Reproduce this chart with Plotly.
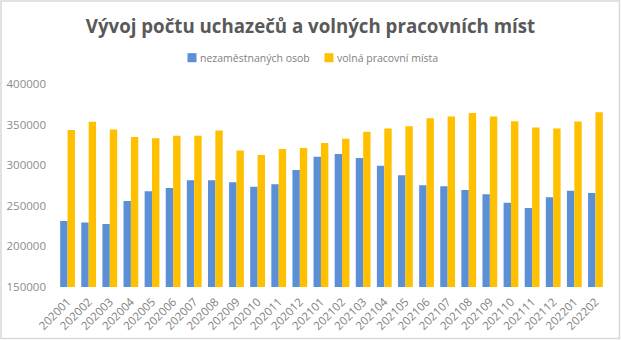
import plotly.graph_objects as go

categories = ["202001","202002","202003","202004","202005","202006","202007","202008","202009","202010","202011","202012",
              "202101","202102","202103","202104","202105","202106","202107","202108","202109","202110","202111","202112",
              "202201","202202"]
nezamestnanych = [231400,229300,227700,256000,267900,272000,281400,281400,278900,273500,276500,294000,
                  310400,313700,308800,299300,287500,275300,274000,269500,264200,253900,247400,260500,
                  268600,265800]
volna_mista = [343200,353400,344000,334600,333300,336200,336200,342800,318200,312500,319800,321100,
               327200,332500,341100,345200,348100,357900,360000,364400,360000,354200,346500,345200,
               353800,365300]
y_ticks = [150000,200000,250000,300000,350000,400000]
series_names = ["nezaměstnaných osob", "volná pracovní místa"]
series_colors = ["#5B8FD6", "#FFC000"]

W, H = 621, 340
L, R, T, B = 57, 15, 84, 53
pw, ph = W - L - R, H - T - B

def px_x(p):
    return (p - L) / pw

def px_y(p):
    return (H - B - p) / ph

fig = go.Figure()
fig.add_bar(x=categories, y=nezamestnanych, name=series_names[0], marker_color=series_colors[0],
            marker_line_width=0)
fig.add_bar(x=categories, y=volna_mista, name=series_names[1], marker_color=series_colors[1],
            marker_line_width=0)

fig.update_layout(
    width=W, height=H,
    margin=dict(l=L, r=R, t=T, b=B, autoexpand=False),
    paper_bgcolor="white", plot_bgcolor="white",
    barmode="group", bargap=0.3, bargroupgap=0,
    font=dict(family="Open Sans", color="#7f7f7f", size=11),
    title=dict(text="<b>Vývoj počtu uchazečů a volných pracovních míst</b>",
               x=0.5, xref="container", xanchor="center", y=1 - 26 / H, yanchor="middle",
               font=dict(family="Open Sans", size=18.7, color="#595959")),
    showlegend=False,
)
fig.update_xaxes(type="category", tickangle=-45, showline=False, showgrid=False, ticks="",
                 automargin=False, ticklabelstandoff=5, tickfont=dict(size=11.5, color="#7f7f7f"))
fig.update_yaxes(range=[150000, 400000], tickvals=y_ticks, tickformat="d", showgrid=False,
                 showline=False, zeroline=False, ticks="", ticklabelstandoff=10, automargin=False,
                 tickfont=dict(size=11.5, color="#8c8c8c"))

# outer chart border
fig.add_shape(type="rect", xref="paper", yref="paper",
              x0=px_x(1), x1=px_x(W - 1.5), y0=px_y(H - 1.5), y1=px_y(1),
              line=dict(color="#d9d9d9", width=1.5), fillcolor="rgba(0,0,0,0)", layer="below")

# legend (square swatch + label)
legend_x = [187.5, 324.5]
legend_cy = 57.7
for name, color, lx in zip(series_names, series_colors, legend_x):
    fig.add_shape(type="rect", xref="paper", yref="paper",
                  x0=px_x(lx), x1=px_x(lx + 9), y0=px_y(legend_cy + 4.5), y1=px_y(legend_cy - 4.5),
                  line=dict(width=0), fillcolor=color)
    fig.add_annotation(text=name, xref="paper", yref="paper", x=px_x(lx + 10.5), y=px_y(legend_cy),
                       xanchor="left", yanchor="middle", showarrow=False,
                       font=dict(family="Open Sans", size=10.5, color="#7f7f7f"))

fig.write_html("out.html")
